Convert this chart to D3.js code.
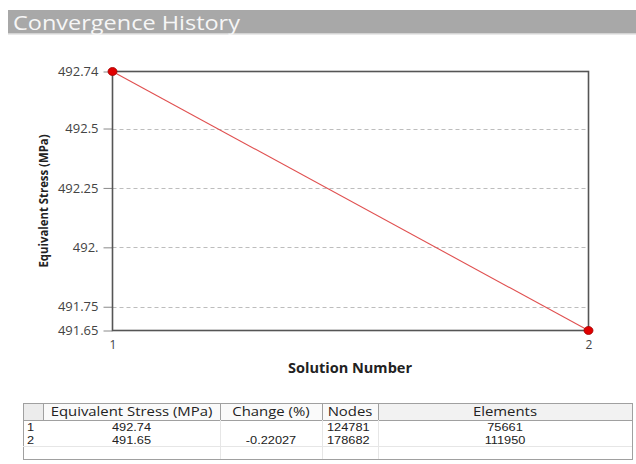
<!DOCTYPE html>
<html>
<head>
<meta charset="utf-8">
<script src="https://cdn.jsdelivr.net/npm/d3@7"></script>
<style>
  html, body { margin: 0; padding: 0; background: #fff; }
  svg { display: block; }
</style>
</head>
<body>
<svg id="chart" width="636" height="464"></svg>
<script>
// ---- data ----
const chartTitle = "Convergence History";
const solutions = [1, 2];
const stress = [492.74, 491.65];
const yTicks = [491.65, 491.75, 492, 492.25, 492.5, 492.74];
const yTickLabels = ["491.65", "491.75", "492.", "492.25", "492.5", "492.74"];
const yGridTicks = [491.75, 492, 492.25, 492.5];
const xTickLabels = ["1", "2"];
const yLabel = "Equivalent Stress (MPa)";
const xLabel = "Solution Number";
const tableHeaders = ["", "Equivalent Stress (MPa)", "Change (%)", "Nodes", "Elements"];
const tableStress = ["492.74", "491.65"];
const tableChange = ["", "-0.22027"];
const tableNodes = ["124781", "178682"];
const tableElements = ["75661", "111950"];

// ---- layout ----
const svg = d3.select("#chart");
const FONT = "'Open Sans', 'Noto Sans', sans-serif";
const BODYFONT = "'Liberation Sans', Arial, sans-serif";
const plot = { left: 112.5, right: 588.5, top: 71.5, bottom: 330.5 };

// title bar
svg.append("rect").attr("x", 8).attr("y", 10).attr("width", 628).attr("height", 24).attr("fill", "#a8a8a8");
svg.append("rect").attr("x", 8).attr("y", 33).attr("width", 628).attr("height", 1.5).attr("fill", "#d4d4d4");
svg.append("text").attr("x", 13).attr("y", 29.5)
  .attr("font-family", FONT).attr("font-size", 20).attr("fill", "#f6f6f6")
  .attr("textLength", 227).attr("lengthAdjust", "spacingAndGlyphs")
  .text(chartTitle);

const x = d3.scaleLinear().domain([1, 2]).range([plot.left, plot.right]);
const y = d3.scaleLinear().domain([491.65, 492.74]).range([plot.bottom, plot.top]);

// gridlines
svg.append("g").selectAll("line").data(yGridTicks).join("line")
  .attr("x1", plot.left).attr("x2", plot.right)
  .attr("y1", d => Math.round(y(d)) + 0.5).attr("y2", d => Math.round(y(d)) + 0.5)
  .attr("stroke", "#bdbdbd").attr("stroke-width", 1).attr("stroke-dasharray", "4,3");

// y axis with ticks
const yAxis = d3.axisLeft(y).tickValues(yTicks)
  .tickFormat((d, i) => yTickLabels[i]).tickSize(9).tickPadding(5);
const gy = svg.append("g").attr("transform", `translate(${plot.left},0)`).call(yAxis);
gy.select(".domain").remove();
gy.selectAll(".tick line").attr("stroke", "#8a8a8a");
gy.selectAll(".tick text").attr("font-family", FONT).attr("font-size", 13).attr("fill", "#444");

// x axis labels
const xAxis = d3.axisBottom(x).tickValues(solutions).tickFormat((d, i) => xTickLabels[i]).tickSize(0).tickPadding(10);
const gx = svg.append("g").attr("transform", `translate(0,${plot.bottom})`).call(xAxis);
gx.select(".domain").remove();
gx.selectAll(".tick text").attr("font-family", FONT).attr("font-size", 12).attr("fill", "#444");

// frame
svg.append("rect").attr("x", plot.left).attr("y", plot.top)
  .attr("width", plot.right - plot.left).attr("height", plot.bottom - plot.top)
  .attr("fill", "none").attr("stroke", "#555").attr("stroke-width", 1.6);

// axis labels
svg.append("text").attr("transform", `translate(48,201) rotate(-90)`)
  .attr("text-anchor", "middle").attr("font-family", FONT).attr("font-weight", "bold")
  .attr("font-size", 13).attr("fill", "#222")
  .attr("textLength", 133).attr("lengthAdjust", "spacingAndGlyphs")
  .text(yLabel);
svg.append("text").attr("x", 350).attr("y", 373)
  .attr("text-anchor", "middle").attr("font-family", FONT).attr("font-weight", "bold")
  .attr("font-size", 13.5).attr("fill", "#222")
  .attr("textLength", 124).attr("lengthAdjust", "spacingAndGlyphs")
  .text(xLabel);

// line + markers
const pts = solutions.map((s, i) => [s, stress[i]]);
svg.append("path").datum(pts)
  .attr("d", d3.line().x(d => x(d[0])).y(d => y(d[1])))
  .attr("fill", "none").attr("stroke", "#e05050").attr("stroke-width", 1.1);
svg.append("g").selectAll("ellipse").data(pts).join("ellipse")
  .attr("cx", d => x(d[0])).attr("cy", d => y(d[1]))
  .attr("rx", 4.5).attr("ry", 4)
  .attr("fill", "#e00000").attr("stroke", "#a00000").attr("stroke-width", 0.8);

// ---- table ----
const colEdges = [23, 43, 220, 322, 378, 632];
const tTop = 403, hdrH = 17, rowH = 13, nRows = 3;
const tBottom = tTop + hdrH + rowH * nRows;
const tg = svg.append("g");
const stretch = (k) => function () {
  const w = this.getComputedTextLength();
  if (w > 0) d3.select(this).attr("textLength", w * k).attr("lengthAdjust", "spacingAndGlyphs");
};
// header backgrounds
tg.selectAll("rect.hdr").data(tableHeaders).join("rect").attr("class", "hdr")
  .attr("x", (d, i) => colEdges[i]).attr("y", tTop)
  .attr("width", (d, i) => colEdges[i + 1] - colEdges[i]).attr("height", hdrH)
  .attr("fill", (d, i) => i === 0 ? "#ececec" : (i === 4 ? "#f2f2f2" : "#fafafa"));
// outer border
tg.append("rect").attr("x", colEdges[0] + 0.5).attr("y", tTop + 0.5)
  .attr("width", colEdges[5] - colEdges[0]).attr("height", tBottom - tTop)
  .attr("fill", "none").attr("stroke", "#a0a0a0");
// header bottom line
tg.append("line").attr("x1", colEdges[0]).attr("x2", colEdges[5])
  .attr("y1", tTop + hdrH + 0.5).attr("y2", tTop + hdrH + 0.5).attr("stroke", "#a0a0a0");
// header separators
tg.selectAll("line.hsep").data(colEdges.slice(1, 5)).join("line").attr("class", "hsep")
  .attr("x1", d => d + 0.5).attr("x2", d => d + 0.5)
  .attr("y1", tTop).attr("y2", tTop + hdrH).attr("stroke", "#a0a0a0");
// body separators (faint)
tg.selectAll("line.bsep").data(colEdges.slice(2, 5)).join("line").attr("class", "bsep")
  .attr("x1", d => d + 0.5).attr("x2", d => d + 0.5)
  .attr("y1", tTop + hdrH).attr("y2", tBottom).attr("stroke", "#e6e6e6");
tg.append("line").attr("x1", colEdges[0]).attr("x2", colEdges[5])
  .attr("y1", tTop + hdrH + rowH * 2 + 0.5).attr("y2", tTop + hdrH + rowH * 2 + 0.5)
  .attr("stroke", "#e6e6e6");
// header text
tg.selectAll("text.htxt").data(tableHeaders.filter(d => d !== "")).join("text").attr("class", "htxt")
  .attr("x", d => { const i = tableHeaders.indexOf(d); return (colEdges[i] + colEdges[i + 1]) / 2; })
  .attr("y", tTop + 12.5)
  .attr("text-anchor", "middle").attr("font-family", FONT).attr("font-size", 12).attr("fill", "#222")
  .text(d => d)
  .each(stretch(1.24));
// body text
const rows = tableStress.map((s, i) => [String(i + 1), s, tableChange[i], tableNodes[i], tableElements[i]]);
const anchors = ["start", "middle", "middle", "start", "middle"];
const cellX = (i) => i === 0 ? colEdges[0] + 4 : i === 3 ? colEdges[3] + 5 : (colEdges[i] + colEdges[i + 1]) / 2;
rows.forEach((r, ri) => {
  tg.selectAll(null).data(r.map((v, i) => ({ v, i })).filter(d => d.v !== "")).join("text")
    .attr("x", d => cellX(d.i)).attr("y", tTop + hdrH + rowH * ri + 10.5)
    .attr("text-anchor", d => anchors[d.i])
    .attr("font-family", BODYFONT).attr("font-size", 11).attr("fill", "#222")
    .text(d => d.v)
    .each(stretch(1.16));
});
</script>
</body>
</html>
